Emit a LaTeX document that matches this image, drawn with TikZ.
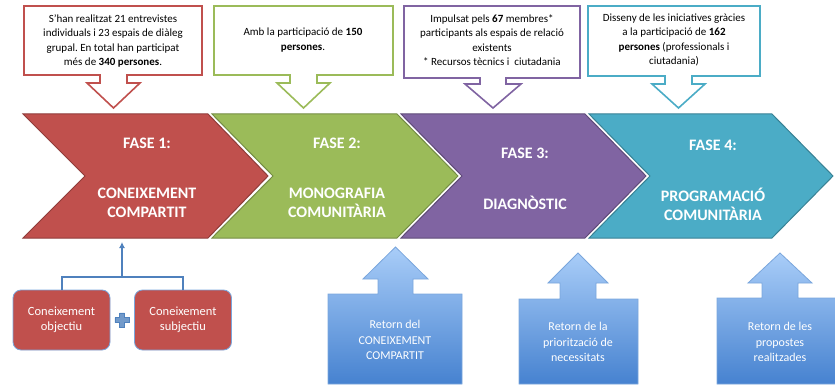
\documentclass[tikz,border=0pt]{standalone}
\usepackage{fontspec}
\setmainfont{Carlito}
\usetikzlibrary{arrows.meta}
\frenchspacing

\definecolor{faseA}{HTML}{C0504D}
\definecolor{faseB}{HTML}{9BBB59}
\definecolor{faseC}{HTML}{8064A2}
\definecolor{faseD}{HTML}{4BACC6}
\definecolor{retornTop}{HTML}{A9CDF8}
\definecolor{retornBot}{HTML}{4682D0}
\definecolor{retornLine}{HTML}{7AA6DC}
\definecolor{bracketblue}{HTML}{4F81BD}

\tikzset{
  callout/.style={line width=1.6pt, fill=white, line join=miter},
  callouttext/.style={align=center, inner sep=0pt, font=\fontsize{11}{14.5}\selectfont},
  fase/.style={line width=1pt, line join=miter},
  fasetext/.style={text=white, align=center, inner sep=0pt, font=\fontsize{16}{19}\selectfont\bfseries},
  kbox/.style={draw=retornLine, line width=0.8pt, fill=faseA, rounded corners=8pt,
    minimum width=97pt, minimum height=60pt, align=center, text=white,
    font=\fontsize{12.5}{15}\selectfont},
  retorn/.style={shading=axis, top color=retornTop, bottom color=retornBot, draw=retornLine, line width=0.8pt},
  retorntext/.style={text=white, align=center, inner sep=0pt, font=\fontsize{12}{15.5}\selectfont},
  bracket/.style={draw=bracketblue, line width=2pt}
}

\begin{document}
\begin{tikzpicture}[x=1pt,y=-1pt]
\useasboundingbox (0,0) rectangle (835,385);

% callouts above the phases
\draw[callout, draw=faseA] (24,6) -- (202,6) -- (202,75) -- (127,75) -- (127,83) -- (140,83) -- (113.5,108) -- (87,83) -- (100,83) -- (100,75) -- (24,75) -- cycle;
\draw[callout, draw=faseB] (214,6) -- (393,6) -- (393,75) -- (317,75) -- (317,83) -- (330,83) -- (303.5,108) -- (277,83) -- (290,83) -- (290,75) -- (214,75) -- cycle;
\draw[callout, draw=faseC] (404,6) -- (580,6) -- (580,78) -- (506,78) -- (506,84) -- (521,84) -- (493,108) -- (465,84) -- (480,84) -- (480,78) -- (404,78) -- cycle;
\draw[callout, draw=faseD] (588,6) -- (760,6) -- (760,76) -- (692,76) -- (692,84) -- (705,84) -- (678.5,108) -- (652,84) -- (665,84) -- (665,76) -- (588,76) -- cycle;

\node[callouttext] (nota1) at (113,41) {S’han realitzat 21 entrevistes\\individuals i 23 espais de diàleg\\grupal. En total han participat\\més de \textbf{340 persones}.};
\node[callouttext] (nota2) at (303,40) {Amb la participació de \textbf{150}\\\textbf{persones}.};
\node[callouttext] (nota3) at (492,40) {Impulsat pels \textbf{67} membres*\\participants als espais de relació\\existents\\* Recursos tècnics i\ \ ciutadania};
\node[callouttext] (nota4) at (674,40) {Disseny de les iniciatives gràcies\\a la participació de \textbf{162}\\\textbf{persones} (professionals i\\ciutadania)};

% the four phases
\filldraw[fase, fill=faseA, draw=faseA!75!black] (23,114) -- (208,114) -- (268,176) -- (208,238) -- (23,238) -- (85,176) -- cycle;
\filldraw[fase, fill=faseB, draw=faseB!75!black] (212,114) -- (397,114) -- (458,176) -- (397,238) -- (212,238) -- (273,176) -- cycle;
\filldraw[fase, fill=faseC, draw=faseC!75!black] (401,114) -- (585,114) -- (646,176) -- (585,238) -- (401,238) -- (462,176) -- cycle;
\filldraw[fase, fill=faseD, draw=faseD!75!black] (589,114) -- (772,114) -- (833,176) -- (772,238) -- (589,238) -- (650,176) -- cycle;

\node[fasetext] (fase1) at (147,143) {FASE 1:};
\node[fasetext] (nom1) at (147,203) {CONEIXEMENT\\COMPARTIT};
\node[fasetext] (fase2) at (337,143) {FASE 2:};
\node[fasetext] (nom2) at (337,203) {MONOGRAFIA\\COMUNITÀRIA};
\node[fasetext] (fase3) at (525,153) {FASE 3:};
\node[fasetext] (nom3) at (525,203) {DIAGNÒSTIC};
\node[fasetext] (fase4) at (713,145) {FASE 4:};
\node[fasetext] (nom4) at (713,204) {PROGRAMACIÓ\\COMUNITÀRIA};

% knowledge boxes
\node[kbox] (objectiu) at (61.5,320) {Coneixement\\objectiu};
\node[kbox] (subjectiu) at (183,320) {Coneixement\\subjectiu};
\coordinate (unio) at (122,277);
\coordinate (fase1peu) at (122,242);
\draw[bracket] (objectiu.north) |- (unio) -| (subjectiu.north);
\draw[bracket, line width=1.6pt, -{Latex[length=6pt,width=6pt]}] (unio) -- (fase1peu);
\node[inner sep=0pt, minimum size=14pt] (mes) at (122,320) {};
\filldraw[fill=bracketblue!80, draw=bracketblue, line width=0.5pt]
  ([xshift=-2.5pt]mes.north) -- ([xshift=2.5pt]mes.north) -- ([xshift=2.5pt,yshift=2.5pt]mes.center)
  -- ([yshift=2.5pt]mes.east) -- ([yshift=-2.5pt]mes.east) -- ([xshift=2.5pt,yshift=-2.5pt]mes.center)
  -- ([xshift=2.5pt]mes.south) -- ([xshift=-2.5pt]mes.south) -- ([xshift=-2.5pt,yshift=-2.5pt]mes.center)
  -- ([yshift=-2.5pt]mes.west) -- ([yshift=2.5pt]mes.west) -- ([xshift=-2.5pt,yshift=2.5pt]mes.center) -- cycle;

% feedback arrows
\shadedraw[retorn] (328,384) -- (328,294) -- (378,294) -- (378,279) -- (363,279) -- (395.5,247) -- (428,279) -- (413,279) -- (413,294) -- (462,294) -- (462,384) -- cycle;
\shadedraw[retorn] (519,384) -- (519,299) -- (560,299) -- (560,283) -- (548,283) -- (578,253) -- (608,283) -- (596,283) -- (596,299) -- (638,299) -- (638,384) -- cycle;
\shadedraw[retorn] (717,384) -- (717,298) -- (762,298) -- (762,283) -- (748,283) -- (780,253) -- (812,283) -- (798,283) -- (798,298) -- (843,298) -- (843,384) -- cycle;

\node[retorntext] (retorn1) at (395,340) {Retorn del\\CONEIXEMENT\\COMPARTIT};
\node[retorntext] (retorn2) at (578,342) {Retorn de la\\priorització de\\necessitats};
\node[retorntext] (retorn3) at (780,342) {Retorn de les\\propostes\\realitzades};
\end{tikzpicture}
\end{document}
